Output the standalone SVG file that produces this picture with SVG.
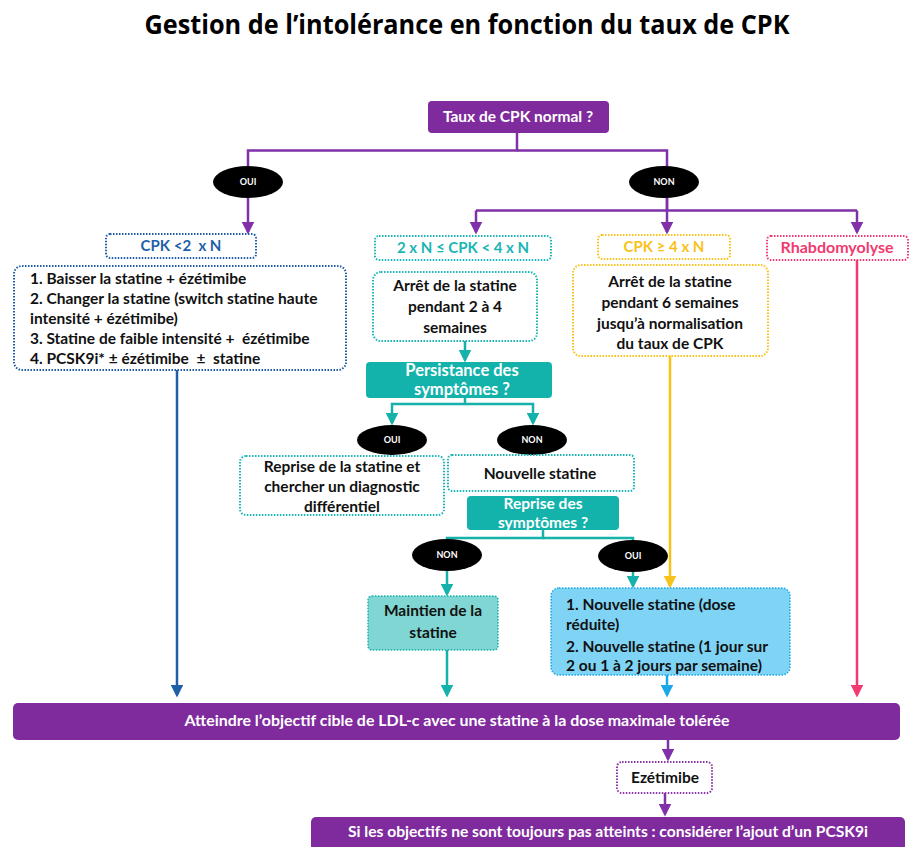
<svg xmlns="http://www.w3.org/2000/svg" width="910" height="847" viewBox="0 0 910 847">
<style>
text{font-family:"Lato","Liberation Sans",sans-serif;font-weight:bold;}
.t{font-size:15.5px;fill:#111;text-anchor:middle;}
.tl{font-size:15.5px;fill:#111;}
.h{font-size:15px;text-anchor:middle;}
.w{font-size:15.5px;fill:#fff;text-anchor:middle;}
.ws{font-size:16.5px;fill:#fff;text-anchor:middle;}
.yn{font-size:9px;fill:#fff;text-anchor:middle;}
.ell{fill:#000;}
.dblue{fill:#fff;stroke:#1f5fa8;stroke-width:2;stroke-dasharray:1.5 1.5;}
.dteal{fill:#fff;stroke:#1ab5b5;stroke-width:2;stroke-dasharray:1.5 1.5;}
.dyel{fill:#fff;stroke:#f9c21a;stroke-width:2;stroke-dasharray:1.5 1.5;}
.dpink{fill:#fff;stroke:#f03a70;stroke-width:2;stroke-dasharray:1.5 1.5;}
.dpur{fill:#fff;stroke:#8a35a8;stroke-width:2;stroke-dasharray:1.5 1.5;}
.purple{fill:#7f2b9e;}
.teal{fill:#13b3ac;}
.cp{fill:none;stroke:#8030a8;stroke-width:2.5;}
.ct{fill:none;stroke:#15b1ab;stroke-width:2.5;}
</style>
<defs>
<marker id="ap" markerWidth="5" markerHeight="5" refX="4" refY="2.5" orient="auto" markerUnits="strokeWidth"><path d="M0,0 L5,2.5 L0,5 z" fill="#8030a8"/></marker>
<marker id="at" markerWidth="5" markerHeight="5" refX="4" refY="2.5" orient="auto" markerUnits="strokeWidth"><path d="M0,0 L5,2.5 L0,5 z" fill="#15b1ab"/></marker>
<marker id="ab" markerWidth="5" markerHeight="5" refX="4" refY="2.5" orient="auto" markerUnits="strokeWidth"><path d="M0,0 L5,2.5 L0,5 z" fill="#1f5fa8"/></marker>
<marker id="ay" markerWidth="5" markerHeight="5" refX="4" refY="2.5" orient="auto" markerUnits="strokeWidth"><path d="M0,0 L5,2.5 L0,5 z" fill="#f9c21a"/></marker>
<marker id="ak" markerWidth="5" markerHeight="5" refX="4" refY="2.5" orient="auto" markerUnits="strokeWidth"><path d="M0,0 L5,2.5 L0,5 z" fill="#f03a70"/></marker>
<marker id="al" markerWidth="5" markerHeight="5" refX="4" refY="2.5" orient="auto" markerUnits="strokeWidth"><path d="M0,0 L5,2.5 L0,5 z" fill="#1aa8e8"/></marker>
</defs>
<rect width="910" height="847" fill="#fff"/>
<text x="467" y="34" style="font-size:26px;fill:#000;text-anchor:middle;font-family:'Open Sans','Liberation Sans',sans-serif" textLength="645" lengthAdjust="spacingAndGlyphs">Gestion de l’intolérance en fonction du taux de CPK</text>

<g id="connectors">
<path class="cp" d="M517,133 V150.5 H248 V232" marker-end="url(#ap)"/>
<path class="cp" d="M517,150.5 H667 V210.5"/>
<path class="cp" d="M667,198 V232" marker-end="url(#ap)"/>
<path class="cp" d="M476,210.5 H857"/>
<path class="cp" d="M476,210.5 V232" marker-end="url(#ap)"/>
<path class="cp" d="M857,210.5 V232" marker-end="url(#ap)"/>
<path fill="none" stroke="#1f5fa8" stroke-width="2.5" d="M177,370 V695" marker-end="url(#ab)"/>
<path class="ct" d="M465,341 V360" marker-end="url(#at)"/>
<path class="ct" d="M465,398 V404 H392 V423" marker-end="url(#at)"/>
<path class="ct" d="M465,404 H533 V423" marker-end="url(#at)"/>
<path class="ct" d="M543,530 V538 H447 V545"/>
<path class="ct" d="M543,538 H633 V545"/>
<path class="ct" d="M447,570 V594" marker-end="url(#at)"/>
<path class="ct" d="M633,572 V586" marker-end="url(#at)"/>
<path class="ct" d="M447,650 V695" marker-end="url(#at)"/>
<path fill="none" stroke="#f9c21a" stroke-width="2.5" d="M670,356 V586" marker-end="url(#ay)"/>
<path fill="none" stroke="#1aa8e8" stroke-width="2.5" d="M667,675 V695" marker-end="url(#al)"/>
<path fill="none" stroke="#f03a70" stroke-width="2.5" d="M857,260 V695" marker-end="url(#ak)"/>
<path class="cp" d="M668,740 V759" marker-end="url(#ap)"/>
<path class="cp" d="M665,793 V814" marker-end="url(#ap)"/>
</g>

<g id="q1"><rect class="purple" x="428" y="101" width="181" height="32" rx="4"/><text class="w" x="518" y="122">Taux de CPK normal ?</text></g>
<g id="oui1"><ellipse class="ell" cx="248" cy="182" rx="35" ry="16"/><text class="yn" x="248" y="185">OUI</text></g>
<g id="non1"><ellipse class="ell" cx="664" cy="182" rx="35" ry="16"/><text class="yn" x="664" y="185">NON</text></g>

<g id="cpk2"><rect class="dblue" x="106" y="234" width="150" height="24" rx="4"/><text class="h" x="181" y="251" style="fill:#1f5fa8" xml:space="preserve">CPK &lt;2  x N</text></g>
<g id="cpk24"><rect class="dteal" x="375" y="236" width="176" height="24" rx="4"/><text class="h" x="463" y="253" style="fill:#1ab5b5">2 x N ≤ CPK &lt; 4 x N</text></g>
<g id="cpk4"><rect class="dyel" x="598" y="235" width="132" height="24" rx="4"/><text class="h" x="664" y="252" style="fill:#f9c21a">CPK ≥ 4 x N</text></g>
<g id="rhabdo"><rect class="dpink" x="767" y="236" width="141" height="24" rx="4"/><text class="h" x="837" y="253" style="fill:#f03a70;font-size:16px">Rhabdomyolyse</text></g>

<g id="list1"><rect class="dblue" x="14" y="266" width="332" height="104" rx="8"/>
<text class="tl" x="30" y="284">1. Baisser la statine + ézétimibe</text>
<text class="tl" x="30" y="304">2. Changer la statine (switch statine haute</text>
<text class="tl" x="30" y="324">intensité + ézétimibe)</text>
<text class="tl" x="30" y="344" xml:space="preserve">3. Statine de faible intensité +  ézétimibe</text>
<text class="tl" x="30" y="364" xml:space="preserve">4. PCSK9i* ± ézétimibe  ±  statine</text></g>

<g id="arret24"><rect class="dteal" x="373" y="272" width="164" height="69" rx="8"/>
<text class="t" x="455" y="291">Arrêt de la statine</text>
<text class="t" x="455" y="312">pendant 2 à 4</text>
<text class="t" x="455" y="333">semaines</text></g>

<g id="arret6"><rect class="dyel" x="573" y="265" width="195" height="91" rx="8"/>
<text class="t" x="670" y="287">Arrêt de la statine</text>
<text class="t" x="670" y="308">pendant 6 semaines</text>
<text class="t" x="670" y="329">jusqu’à normalisation</text>
<text class="t" x="670" y="349">du taux de CPK</text></g>

<g id="persist"><rect class="teal" x="366" y="362" width="186" height="36" rx="4"/>
<text class="ws" x="462" y="376">Persistance des</text>
<text class="ws" x="462" y="395">symptômes ?</text></g>
<g id="oui2"><ellipse class="ell" cx="392" cy="440" rx="35" ry="15"/><text class="yn" x="392" y="443">OUI</text></g>
<g id="non2"><ellipse class="ell" cx="532" cy="440" rx="35" ry="15"/><text class="yn" x="532" y="443">NON</text></g>

<g id="reprise"><rect class="dteal" x="240" y="456" width="204" height="59" rx="6"/>
<text class="t" x="342" y="472">Reprise de la statine et</text>
<text class="t" x="342" y="492">chercher un diagnostic</text>
<text class="t" x="342" y="512">différentiel</text></g>
<g id="nouvelle"><rect class="dteal" x="448" y="455" width="186" height="36" rx="4"/>
<text class="t" x="540" y="479">Nouvelle statine</text></g>
<g id="reprisesympt"><rect class="teal" x="467" y="496" width="152" height="34" rx="4"/>
<text class="w" x="543" y="509">Reprise des</text>
<text class="w" x="543" y="528">symptômes ?</text></g>
<g id="non3"><ellipse class="ell" cx="447" cy="555" rx="35" ry="16"/><text class="yn" x="447" y="558">NON</text></g>
<g id="oui3"><ellipse class="ell" cx="633" cy="556" rx="35" ry="16"/><text class="yn" x="633" y="559">OUI</text></g>

<g id="maintien"><rect x="368" y="596" width="130" height="54" rx="4" fill="#7fd6d3" stroke="#15b1ab" stroke-width="1.5" stroke-dasharray="1.5 1.5"/>
<text class="t" x="433" y="616">Maintien de la</text>
<text class="t" x="433" y="638">statine</text></g>

<g id="nouvelle2"><rect x="551" y="588" width="239" height="87" rx="8" fill="#7fd4f5" stroke="#1aa8e8" stroke-width="1.5" stroke-dasharray="1.5 1.5"/>
<text class="tl" x="566" y="610">1. Nouvelle statine (dose</text>
<text class="tl" x="566" y="630">réduite)</text>
<text class="tl" x="566" y="652">2. Nouvelle statine (1 jour sur</text>
<text class="tl" x="566" y="671">2 ou 1 à 2 jours par semaine)</text></g>

<g id="objectif"><rect class="purple" x="13" y="703" width="887" height="37" rx="5"/>
<text class="w" x="457" y="726" textLength="545" lengthAdjust="spacingAndGlyphs">Atteindre l’objectif cible de LDL-c avec une statine à la dose maximale tolérée</text></g>

<g id="ezetimibe"><rect class="dpur" x="617" y="762" width="95" height="31" rx="5"/>
<text class="t" x="665" y="783">Ezétimibe</text></g>

<g id="pcsk9"><rect class="purple" x="311" y="817" width="594" height="40" rx="5"/>
<text class="w" x="608" y="837" textLength="520" lengthAdjust="spacingAndGlyphs">Si les objectifs ne sont toujours pas atteints : considérer l’ajout d’un PCSK9i</text></g>
</svg>
